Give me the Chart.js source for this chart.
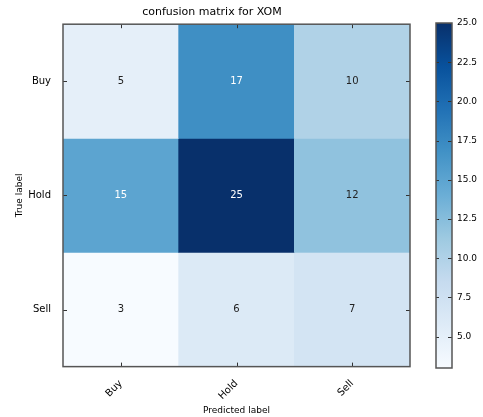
<!DOCTYPE html>
<html>
<head>
<meta charset="utf-8">
<script src="https://cdn.jsdelivr.net/npm/chart.js@4.4.1/dist/chart.umd.min.js"></script>
<style>
  html, body { margin: 0; padding: 0; background: #fff; }
  #wrap { position: relative; width: 483px; height: 417px; }
  #main { position: absolute; left: 0; top: 0; }
  #cbar { position: absolute; left: 428px; top: 0; }
</style>
</head>
<body>
<div id="wrap">
  <canvas id="main" width="430" height="417"></canvas>
  <canvas id="cbar" width="55" height="417"></canvas>
</div>
<script>
// Class names along both axes
const classes = ['Buy', 'Hold', 'Sell'];
// Counts per true class (rows), one entry per predicted class (columns)
const rowBuy  = [5, 17, 10];
const rowHold = [15, 25, 12];
const rowSell = [3, 6, 7];
const matrix = [rowBuy, rowHold, rowSell];
// Colour scale range and colour bar tick values
const colorMin = 3;
const colorMax = 25;
const colorbarTicks = [5, 7.5, 10, 12.5, 15, 17.5, 20, 22.5, 25];

// "Blues" sequential colour map
const bluesStops = ['#f7fbff', '#deebf7', '#c6dbef', '#9ecae1', '#6baed6',
                    '#4292c6', '#2171b5', '#08519c', '#08306b'];
function hexToRgb(h) {
  return [parseInt(h.slice(1, 3), 16), parseInt(h.slice(3, 5), 16), parseInt(h.slice(5, 7), 16)];
}
function blues(t) {
  t = Math.max(0, Math.min(1, t));
  const pos = t * (bluesStops.length - 1);
  const i = Math.min(Math.floor(pos), bluesStops.length - 2);
  const f = pos - i;
  const a = hexToRgb(bluesStops[i]), b = hexToRgb(bluesStops[i + 1]);
  const c = a.map((v, k) => Math.round(v + (b[k] - v) * f));
  return `rgb(${c[0]},${c[1]},${c[2]})`;
}
function colorFor(v) { return blues((v - colorMin) / (colorMax - colorMin)); }

Chart.defaults.font.family = 'DejaVu Sans';
Chart.defaults.color = '#000';

// One floating-bar dataset per row; each bar spans its row band
const datasets = matrix.map((row, r) => ({
  label: classes[r],
  data: row.map(() => [r - 0.5, r + 0.5]),
  backgroundColor: row.map(colorFor),
  borderWidth: 0,
  barPercentage: 1,
  categoryPercentage: 1,
  grouped: false
}));

const frameAndLabels = {
  id: 'frameAndLabels',
  afterDatasetsDraw(chart) {
    const { ctx, chartArea: a, scales: { x, y } } = chart;
    ctx.save();
    // cell values
    ctx.textAlign = 'center';
    ctx.textBaseline = 'middle';
    ctx.font = '10px DejaVu Sans';
    const thresh = colorMax / 2;
    matrix.forEach((row, r) => row.forEach((v, c) => {
      ctx.fillStyle = v > thresh ? '#ffffff' : '#222222';
      ctx.fillText(String(v), x.getPixelForValue(c), y.getPixelForValue(r));
    }));
    // inward tick marks
    ctx.strokeStyle = '#333';
    ctx.lineWidth = 1;
    ctx.beginPath();
    classes.forEach((_, i) => {
      const px = Math.round(x.getPixelForValue(i)) + 0.5;
      ctx.moveTo(px, a.top); ctx.lineTo(px, a.top + 4);
      ctx.moveTo(px, a.bottom); ctx.lineTo(px, a.bottom - 4);
      const py = Math.round(y.getPixelForValue(i)) + 0.5;
      ctx.moveTo(a.left, py); ctx.lineTo(a.left + 4, py);
      ctx.moveTo(a.right, py); ctx.lineTo(a.right - 4, py);
    });
    ctx.stroke();
    // frame
    ctx.strokeStyle = '#555';
    ctx.lineWidth = 1.5;
    ctx.strokeRect(a.left, a.top, a.right - a.left, a.bottom - a.top);
    ctx.restore();
  }
};

new Chart(document.getElementById('main'), {
  type: 'bar',
  data: { labels: classes, datasets },
  options: {
    responsive: false,
    animation: false,
    layout: { padding: { left: 14, right: 20, top: 0, bottom: 0 } },
    plugins: {
      legend: { display: false },
      tooltip: { enabled: false },
      title: {
        display: true,
        text: 'confusion matrix for XOM',
        font: { size: 11, weight: 'normal' },
        padding: { top: 6, bottom: 5 },
        color: '#000'
      }
    },
    scales: {
      x: {
        type: 'category',
        grid: { display: false },
        border: { display: false },
        ticks: { minRotation: 45, maxRotation: 45, font: { size: 10 }, padding: 3 },
        title: { display: true, text: 'Predicted label', font: { size: 9 }, padding: { top: 0, bottom: 1 } }
      },
      y: {
        type: 'linear',
        min: -0.5,
        max: 2.5,
        reverse: true,
        grid: { display: false },
        border: { display: false },
        afterBuildTicks(scale) { scale.ticks = classes.map((_, i) => ({ value: i })); },
        afterFit(scale) { scale.width = 49; },
        ticks: { font: { size: 10 }, padding: 4, callback: (v) => classes[v] },
        title: { display: true, text: 'True label', font: { size: 9 }, padding: { top: 0, bottom: 4 } }
      }
    }
  },
  plugins: [frameAndLabels]
});

// Colour bar: a single floating bar filled with the colour map gradient
const cbarFrame = {
  id: 'cbarFrame',
  afterDatasetsDraw(chart) {
    const { ctx, chartArea: a, scales: { y } } = chart;
    ctx.save();
    ctx.strokeStyle = '#333';
    ctx.lineWidth = 1;
    ctx.beginPath();
    colorbarTicks.forEach(v => {
      const py = Math.round(y.getPixelForValue(v)) + 0.5;
      ctx.moveTo(a.right, py); ctx.lineTo(a.right - 4, py);
      ctx.moveTo(a.left, py); ctx.lineTo(a.left + 3, py);
    });
    ctx.stroke();
    ctx.strokeStyle = '#555';
    ctx.lineWidth = 1.5;
    ctx.strokeRect(a.left, a.top, a.right - a.left, a.bottom - a.top);
    ctx.restore();
  }
};

new Chart(document.getElementById('cbar'), {
  type: 'bar',
  data: {
    labels: [''],
    datasets: [{
      data: [[colorMin, colorMax]],
      borderWidth: 0,
      barPercentage: 1,
      categoryPercentage: 1,
      backgroundColor(context) {
        const area = context.chart.chartArea;
        if (!area) return '#6baed6';
        const g = context.chart.ctx.createLinearGradient(0, area.bottom, 0, area.top);
        bluesStops.forEach((c, i) => g.addColorStop(i / (bluesStops.length - 1), c));
        return g;
      }
    }]
  },
  options: {
    responsive: false,
    animation: false,
    layout: { padding: { left: 8, right: 0, top: 23, bottom: 49 } },
    plugins: { legend: { display: false }, tooltip: { enabled: false } },
    scales: {
      x: { display: false },
      y: {
        position: 'right',
        min: colorMin,
        max: colorMax,
        grid: { display: false, drawTicks: false },
        border: { display: false },
        afterBuildTicks(scale) { scale.ticks = colorbarTicks.map(v => ({ value: v })); },
        afterFit(scale) { scale.width = 31; },
        ticks: { font: { size: 9 }, padding: 5, callback: (v) => Number(v).toFixed(1) }
      }
    }
  },
  plugins: [cbarFrame]
});
</script>
</body>
</html>
